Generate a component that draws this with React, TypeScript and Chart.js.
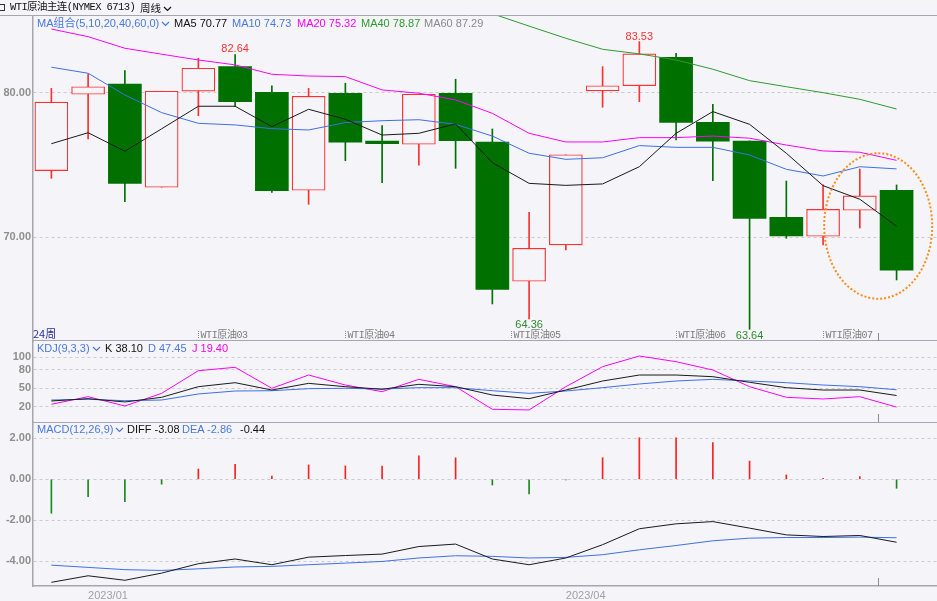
import React, { useEffect, useRef } from 'react';
import { Chart, registerables } from 'chart.js';

Chart.register(...registerables);

const BG = '#f4f4f9';
const RED = '#ff3030';
const GREEN = '#007000';
const BLUE = '#3f6fe6';
const MAGENTA = '#ff00ff';
const MA40C = '#2e9b2e';

// ---- candle data (weekly) ----
const opens = [74.61, 79.89, 80.60, 73.46, 80.10, 81.80, 80.03, 73.25, 79.96, 76.66, 76.43, 79.96, 76.59, 66.96, 69.47, 80.12, 80.48, 82.45, 77.95, 76.66, 71.38, 70.07, 71.87, 73.25];
const highs = [80.30, 81.27, 81.52, 80.10, 82.38, 82.64, 80.48, 80.30, 80.65, 77.72, 79.89, 80.93, 77.49, 71.73, 75.71, 81.80, 83.53, 82.72, 79.20, 76.66, 73.89, 73.62, 74.72, 73.62];
const lows = [74.08, 76.80, 72.46, 73.46, 78.41, 79.03, 73.11, 72.28, 75.30, 73.78, 74.98, 74.77, 65.39, 64.36, 69.12, 78.99, 79.38, 76.73, 73.91, 63.64, 69.93, 69.47, 70.64, 67.05];
const closes = [79.34, 80.41, 73.73, 80.10, 81.69, 79.38, 73.22, 79.75, 76.57, 76.47, 79.89, 76.68, 66.40, 69.24, 75.71, 80.48, 82.68, 77.95, 76.64, 71.31, 70.09, 71.93, 72.86, 67.72];

// ---- moving averages ----
const ma5 = [76.47, 77.23, 75.95, 77.50, 79.06, 79.06, 77.65, 78.85, 78.16, 77.07, 77.19, 77.84, 75.16, 73.73, 73.59, 73.69, 74.88, 77.19, 78.69, 77.81, 75.81, 73.57, 72.63, 70.77];
const ma10 = [81.76, 81.34, 79.84, 78.62, 77.88, 77.77, 77.51, 77.42, 77.93, 78.06, 78.13, 77.81, 77.00, 75.81, 75.39, 75.50, 76.34, 76.22, 76.22, 75.69, 74.70, 74.24, 74.88, 74.73];
const ma20 = [84.40, 83.87, 83.07, 82.66, 82.26, 81.92, 81.27, 81.15, 81.11, 80.19, 79.96, 79.50, 78.57, 77.19, 76.59, 76.59, 76.89, 76.89, 77.00, 76.85, 76.38, 75.97, 75.88, 75.32];
const ma40 = [null, null, null, null, null, null, null, null, null, null, null, null, 85.46, 84.60, 83.76, 83.00, 82.68, 82.26, 81.62, 80.83, 80.41, 80.00, 79.54, 78.87];
const ma60Last = 87.29;

// ---- KDJ ----
const kLine = [29.2, 33.0, 27.6, 35.2, 52.4, 58.9, 47.0, 57.8, 52.4, 48.2, 56.2, 52.4, 38.9, 33.0, 47.0, 61.6, 71.3, 71.3, 68.6, 59.5, 50.8, 47.0, 47.0, 38.10];
const dLine = [30.8, 32.0, 29.7, 30.8, 40.6, 45.4, 45.9, 49.2, 49.8, 48.7, 50.8, 50.8, 45.9, 41.6, 45.4, 50.8, 56.8, 61.6, 64.3, 61.6, 58.9, 55.1, 52.4, 47.45];
const jLine = [23.9, 36.2, 21.1, 41.6, 78.3, 83.8, 49.8, 71.3, 55.1, 44.3, 64.3, 52.4, 15.8, 14.7, 52.4, 84.8, 102.1, 92.9, 79.4, 52.4, 35.2, 32.5, 36.2, 19.40];

// ---- MACD ----
const diff = [-5.04, -4.72, -4.94, -4.59, -4.13, -3.90, -4.18, -3.81, -3.73, -3.66, -3.29, -3.17, -3.90, -4.18, -3.85, -3.20, -2.42, -2.18, -2.07, -2.39, -2.72, -2.80, -2.75, -3.08];
const dea = [-4.20, -4.31, -4.42, -4.46, -4.38, -4.29, -4.26, -4.18, -4.10, -4.02, -3.85, -3.74, -3.77, -3.85, -3.82, -3.69, -3.45, -3.24, -3.01, -2.88, -2.85, -2.85, -2.83, -2.86];
const macdHist = [-1.66, -0.85, -1.09, -0.24, 0.50, 0.73, 0.16, 0.70, 0.65, 0.65, 1.15, 1.05, -0.28, -0.72, -0.03, 1.05, 2.03, 2.03, 1.79, 0.89, 0.21, 0.05, 0.13, -0.44];

// ---- ticks & labels ----
const priceTicks = [70, 80];
const kdjTicks = [20, 50, 80, 100];
const macdTicks = [-4, -2, 0, 2];
const dateTickIdx = [1, 14];
const dateTickLabels = ['2023/01', '2023/04'];
const contractIdx = [4, 8, 12.5, 17, 21];
const contractLabels = ['WTI原油03', 'WTI原油04', 'WTI原油05', 'WTI原油06', 'WTI原油07'];
const extremeIdx = [5, 16, 13, 19];
const extremeValues = [82.64, 83.53, 64.36, 63.64];
const extremeKinds = ['high', 'high', 'low', 'low'];
const highlightCenter = [22.5, 70.78];
const highlightHalfSpan = [1.47, 5.03];
const panelMarkIdx = [22.5];

const last = (a: (number | null)[]) => (a[a.length - 1] as number).toFixed(2);

const LATIN = '"Liberation Sans", "Noto Sans CJK SC", sans-serif';
const MONO = '"Liberation Mono", "Noto Sans CJK SC", monospace';

function Chevron({ color }: { color: string }) {
  return (
    <svg width="9" height="6" style={{ marginLeft: 2, verticalAlign: 'middle' }}>
      <polyline points="1,1 4.5,4.5 8,1" fill="none" stroke={color} strokeWidth="1.2" />
    </svg>
  );
}

export default function App() {
  const ref = useRef<HTMLCanvasElement>(null);

  useEffect(() => {
    if (!ref.current) return;
    const idx = opens.map((_, i) => i);
    const pts = (arr: (number | null)[]) => arr.map((v, i) => ({ x: i, y: v }));
    const up = idx.map((i) => closes[i] >= opens[i]);

    const overlay = {
      id: 'overlay',
      afterDatasetsDraw(chart: any) {
        const { ctx, chartArea, scales } = chart;
        const x = scales.x, y = scales.y, k = scales.k, m = scales.m;
        ctx.save();
        // panel separators
        ctx.strokeStyle = '#a6a6ae';
        ctx.lineWidth = 1;
        const hline = (x1: number, yy: number, x2: number) => {
          ctx.beginPath();
          ctx.moveTo(x1, yy);
          ctx.lineTo(x2, yy);
          ctx.stroke();
        };
        hline(0, y.top - 0.5, chart.width);
        hline(chartArea.left, k.top - 0.5, chartArea.right);
        hline(chartArea.left, m.top + 0.5, chartArea.right);

        // small period marks above each panel's bottom edge
        ctx.strokeStyle = '#8a8a92';
        panelMarkIdx.forEach((ix) => {
          const px = Math.round(x.getPixelForValue(ix)) + 0.5;
          [y.bottom, k.bottom, m.bottom].forEach((b: number) => {
            ctx.beginPath();
            ctx.moveTo(px, b - 8);
            ctx.lineTo(px, b);
            ctx.stroke();
          });
        });

        // extremes
        ctx.font = '11px ' + LATIN;
        ctx.textAlign = 'center';
        extremeIdx.forEach((ix, n) => {
          const px = x.getPixelForValue(ix);
          const py = y.getPixelForValue(extremeValues[n]);
          if (extremeKinds[n] === 'high') {
            ctx.fillStyle = RED;
            ctx.textBaseline = 'alphabetic';
            ctx.fillText(extremeValues[n].toFixed(2), px, py - 2);
          } else {
            ctx.fillStyle = '#2e8b2e';
            ctx.textBaseline = 'top';
            ctx.fillText(extremeValues[n].toFixed(2), px, py + 1);
          }
        });

        // contract roll labels
        ctx.font = '10px ' + MONO;
        (ctx as any).letterSpacing = '-0.4px';
        ctx.textAlign = 'left';
        ctx.textBaseline = 'middle';
        contractIdx.forEach((ix, n) => {
          const px = Math.round(x.getPixelForValue(ix)) + 0.5;
          ctx.strokeStyle = '#8a8a8a';
          ctx.setLineDash([1, 1]);
          ctx.beginPath();
          ctx.moveTo(px, y.bottom - 10);
          ctx.lineTo(px, y.bottom - 2);
          ctx.stroke();
          ctx.setLineDash([]);
          ctx.fillStyle = '#7c7c7c';
          ctx.fillText(contractLabels[n], px + 2, y.bottom - 6);
        });
        (ctx as any).letterSpacing = '0px';

        // highlight ellipse
        const cx = x.getPixelForValue(highlightCenter[0]);
        const cy = y.getPixelForValue(highlightCenter[1]);
        const rx = Math.abs(x.getPixelForValue(highlightCenter[0] + highlightHalfSpan[0]) - cx);
        const ry = Math.abs(y.getPixelForValue(highlightCenter[1] + highlightHalfSpan[1]) - cy);
        ctx.strokeStyle = '#ff8c1a';
        ctx.lineWidth = 2;
        ctx.setLineDash([2, 2]);
        ctx.beginPath();
        ctx.ellipse(cx, cy, rx, ry, 0, 0, Math.PI * 2);
        ctx.stroke();
        ctx.restore();
      },
    };

    const yAxis = (ticksArr: number[], fmt: (v: number) => string, min: number, max: number, stackWeight: number, weight: number) => ({
      type: 'linear',
      axis: 'y',
      position: 'left',
      stack: 'panels',
      stackWeight,
      weight,
      min,
      max,
      offset: false,
      grid: { color: '#cbcbd2', lineWidth: 1, drawTicks: false },
      border: { display: true, color: '#a6a6ae', width: 1.5, dash: [3, 3] },
      ticks: {
        color: '#8e8e8e',
        padding: 2,
        autoSkip: false,
        font: { family: LATIN, size: 11, weight: 'bold' },
        callback: (v: any) => fmt(Number(v)),
      },
      afterBuildTicks: (s: any) => {
        s.ticks = ticksArr.map((v) => ({ value: v }));
      },
      afterFit: (s: any) => {
        s.width = 33;
      },
    });

    const line = (data: (number | null)[], color: string, axis: string) => ({
      type: 'line',
      data: pts(data),
      yAxisID: axis,
      borderColor: color,
      borderWidth: 1,
      pointRadius: 0,
      tension: 0,
      spanGaps: false,
      order: 0,
    });

    const chart = new Chart(ref.current, {
      type: 'bar',
      data: {
        datasets: [
          line(ma5, '#1a1a1a', 'y'),
          line(ma10, BLUE, 'y'),
          line(ma20, MAGENTA, 'y'),
          line(ma40, MA40C, 'y'),
          {
            type: 'bar',
            data: idx.map((i) => ({ x: i, y: [opens[i], closes[i]] })),
            yAxisID: 'y',
            grouped: false,
            barThickness: 33,
            backgroundColor: up.map((u) => (u ? BG : GREEN)),
            borderColor: up.map((u) => (u ? RED : GREEN)),
            borderWidth: up.map((u) => (u ? 1.2 : 0)),
            borderSkipped: false,
            order: 1,
          },
          {
            type: 'bar',
            data: idx.map((i) => ({ x: i, y: [lows[i], highs[i]] })),
            yAxisID: 'y',
            grouped: false,
            barThickness: 1,
            backgroundColor: up.map((u) => (u ? RED : GREEN)),
            borderWidth: 0,
            order: 2,
          },
          line(kLine, '#1a1a1a', 'k'),
          line(dLine, BLUE, 'k'),
          line(jLine, MAGENTA, 'k'),
          {
            type: 'bar',
            data: pts(macdHist),
            yAxisID: 'm',
            grouped: false,
            barThickness: 1,
            backgroundColor: macdHist.map((v) => (v >= 0 ? '#ff2020' : '#1a8a1a')),
            borderWidth: 0,
            order: 1,
          },
          line(diff, '#1a1a1a', 'm'),
          line(dea, BLUE, 'm'),
        ] as any,
      },
      options: {
        animation: false,
        responsive: false,
        layout: { padding: { top: 16, left: 0, right: 0, bottom: 0 } },
        plugins: { legend: { display: false }, tooltip: { enabled: false } },
        events: [],
        scales: {
          x: {
            type: 'linear',
            min: -0.5,
            max: 24.1,
            offset: false,
            grid: { display: false, drawTicks: false },
            border: { display: true, color: '#a6a6ae', width: 1.5 },
            ticks: {
              color: '#a0a0a6',
              align: 'start',
              padding: 3,
              maxRotation: 0,
              autoSkip: false,
              font: { family: LATIN, size: 11 },
              callback: (v: any) => {
                const n = dateTickIdx.indexOf(Number(v));
                return n >= 0 ? dateTickLabels[n] : '';
              },
            },
            afterBuildTicks: (s: any) => {
              s.ticks = dateTickIdx.map((v) => ({ value: v }));
            },
            afterFit: (s: any) => {
              s.height = 15;
            },
          },
          y: yAxis(priceTicks, (v) => v.toFixed(2), 62.83, 85.3, 325, 3),
          k: yAxis(kdjTicks, (v) => String(v), -4.8, 126.4, 81, 2),
          m: yAxis(macdTicks, (v) => v.toFixed(2), -5.22, 2.8, 164, 1),
        } as any,
      },
      plugins: [overlay],
    } as any);
    return () => chart.destroy();
  }, []);

  const legend = (left: number, top: number, color: string, text: string, chevron = false) => (
    <span
      style={{
        position: 'absolute',
        left,
        top,
        color,
        fontFamily: LATIN,
        fontSize: 11,
        lineHeight: '12px',
        whiteSpace: 'nowrap',
      }}
    >
      {text}
      {chevron ? <Chevron color={color} /> : null}
    </span>
  );

  return (
    <div style={{ position: 'fixed', left: 0, top: 0, width: 937, height: 601, background: BG, overflow: 'hidden' }}>
      <canvas ref={ref} width={937} height={601} style={{ position: 'absolute', left: 0, top: 0, width: 937, height: 601 }} />
      <div style={{ position: 'absolute', left: -2, top: 4, width: 5, height: 5, border: '1px solid #333' }} />
      <span
        style={{
          position: 'absolute',
          left: 10,
          top: 1,
          fontFamily: MONO,
          fontSize: 10.5,
          letterSpacing: '-0.6px',
          lineHeight: '13px',
          color: '#111',
          whiteSpace: 'nowrap',
        }}
      >
        WTI原油主连(NYMEX 6713)
      </span>
      <span
        style={{
          position: 'absolute',
          left: 140,
          top: 1,
          fontFamily: '"Noto Sans CJK SC", sans-serif',
          fontSize: 10.5,
          lineHeight: '13px',
          color: '#111',
          whiteSpace: 'nowrap',
        }}
      >
        周线
        <Chevron color="#111" />
      </span>

      {legend(37, 17, '#4a78e0', 'MA组合(5,10,20,40,60,0)', true)}
      {legend(174, 17, '#111', `MA5 ${last(ma5)}`)}
      {legend(232, 17, '#4a78e0', `MA10 ${last(ma10)}`)}
      {legend(297, 17, MAGENTA, `MA20 ${last(ma20)}`)}
      {legend(361, 17, MA40C, `MA40 ${last(ma40)}`)}
      {legend(424, 17, '#8a8a8a', `MA60 ${ma60Last.toFixed(2)}`)}

      {legend(37, 342, '#4a78e0', 'KDJ(9,3,3)', true)}
      {legend(105, 342, '#111', `K ${last(kLine)}`)}
      {legend(148, 342, '#4a78e0', `D ${last(dLine)}`)}
      {legend(192, 342, MAGENTA, `J ${last(jLine)}`)}

      {legend(37, 423, '#4a78e0', 'MACD(12,26,9)', true)}
      {legend(127, 423, '#111', `DIFF ${last(diff)}`)}
      {legend(182, 423, '#4a78e0', `DEA ${last(dea)}`)}
      {legend(240, 423, '#111', last(macdHist))}

      <span
        style={{
          position: 'absolute',
          left: 33,
          top: 327,
          fontFamily: '"Noto Sans CJK SC", sans-serif',
          fontSize: 11,
          lineHeight: '13px',
          color: '#2d2d9e',
          whiteSpace: 'nowrap',
        }}
      >
        24周
      </span>
    </div>
  );
}
